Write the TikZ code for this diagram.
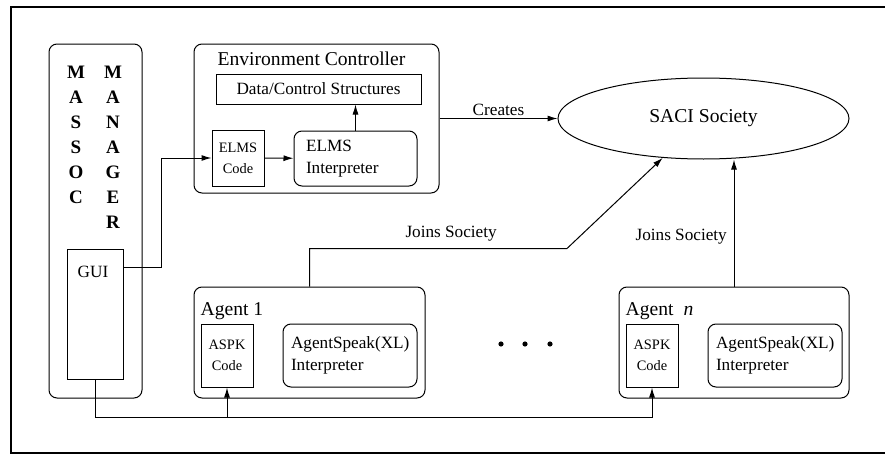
\documentclass[tikz,border=0pt]{standalone}
\usepackage{fontspec}
\setmainfont{Liberation Serif}
\usetikzlibrary{positioning,arrows.meta,shapes.geometric}

\begin{document}
\begin{tikzpicture}[
    x=0.5pt, y=-0.5pt,
    line width=0.5pt,
    font=\fontsize{8.6}{11}\selectfont,
    sq_box/.style={draw, inner sep=0pt},
    rd_box/.style={draw, rounded corners=4pt, inner sep=0pt},
    code_box/.style={sq_box, minimum width=26pt, align=center, font=\fontsize{7.2}{10.5}\selectfont},
    interp_box/.style={rd_box, align=left},
    head_text/.style={font=\fontsize{9.8}{12}\selectfont},
    letters/.style={align=center, anchor=north, inner sep=0pt, font=\fontsize{9.5}{12.5}\selectfont\bfseries},
    arrow/.style={-{Latex[length=5pt,width=3pt]}}
]
\useasboundingbox (0,0) rectangle (885,455);
\draw[line width=0.7pt] (890,7) -- (11,7) -- (11,453) -- (890,453);

% manager
\node (manager) [rd_box, minimum width=46.5pt, minimum height=177pt] at (95.5,221) {};
\node (colA) [letters] at (76,66) {M\\A\\S\\S\\O\\C};
\node (colB) [letters] at (113,66) {M\\A\\N\\A\\G\\E\\R};
\node (gui) [sq_box, minimum width=28pt, minimum height=65pt,
    label={[anchor=north, xshift=-1pt, yshift=-5pt]north:GUI}] at (95,314) {};

% environment controller
\node (env) [rd_box, minimum width=122.5pt, minimum height=74.5pt,
    label={[head_text, anchor=north, xshift=-2.5pt, yshift=-0.5pt]north:Environment Controller}] at (316.5,118.5) {};
\node (data) [sq_box, minimum width=102.5pt, minimum height=15pt] at (318.5,89) {Data/Control Structures};
\node (elmscode) [code_box, minimum height=28pt] at (238,158) {ELMS\\Code};
\node (elmsint) [interp_box, minimum width=61.5pt, minimum height=27.5pt, text width=49.5pt] at (355.5,158.5) {ELMS\\Interpreter};

% society
\node (saci) [ellipse, draw, inner sep=0pt, minimum width=145.5pt, minimum height=40.5pt, head_text] at (703.5,118.5) {SACI Society};

% agents
\node (agent1) [rd_box, minimum width=115.5pt, minimum height=55.5pt,
    label={[head_text, anchor=north west, yshift=-4.25pt]north west:Agent 1}] at (309.5,342.5) {};
\node (aspk1) [code_box, minimum height=31.5pt] at (227,355.5) {ASPK\\Code};
\node (aint1) [interp_box, minimum width=67pt, minimum height=31.5pt, text width=59pt] at (350,355.5) {AgentSpeak(XL)\\Interpreter};

\node (agentn) [rd_box, minimum width=115pt, minimum height=55.5pt,
    label={[head_text, anchor=north west, yshift=-4.25pt]north west:Agent\hspace{5pt}\textit{n}}] at (734,342.5) {};
\node (aspkn) [code_box, minimum height=31.5pt] at (652,355.5) {ASPK\\Code};
\node (aintn) [interp_box, minimum width=67pt, minimum height=31.5pt, text width=59pt] at (775,355.5) {AgentSpeak(XL)\\Interpreter};

\foreach \x in {501,525,550}
    \fill (\x,344) circle (1.3pt);

% connectors
\draw [arrow] ([yshift=-9.5pt]gui.north east) -- ++(38,0) |- (elmscode.west);
\draw [arrow] (elmscode) -- (elmsint);
\draw [arrow] (elmsint.north) -- (elmsint.north |- data.south);
\draw [arrow] (env.east) -- node[above, inner sep=1pt] {Creates} (saci.west);
\draw [arrow] (agent1.north) -- ++(0,-38) -- node[above, pos=0.55] {Joins Society} ++(257.5,0) -- (saci.224);
\draw [arrow] (agentn.north) -- node[left, pos=0.395] {Joins Society} (agentn.north |- saci.south);

\coordinate (bus) at (0,417);
\draw [arrow] (gui.south) |- (aspkn.south |- bus) -- (aspkn.south);
\draw [arrow] (aspk1.south |- bus) -- (aspk1.south);

\end{tikzpicture}
\end{document}
